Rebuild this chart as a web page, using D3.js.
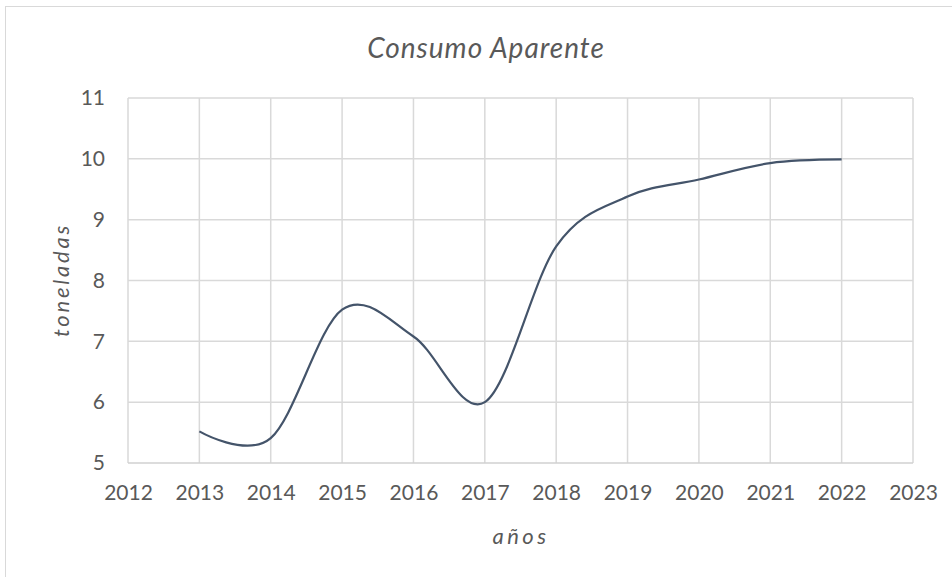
<!DOCTYPE html>
<html>
<head>
<meta charset="utf-8">
<script src="https://cdn.jsdelivr.net/npm/d3@7"></script>
<style>
  body { margin: 0; background: #fff; }
  text { font-family: Lato, "Open Sans", sans-serif; fill: #595959; }
</style>
</head>
<body>
<svg id="chart" width="952" height="577" viewBox="0 0 952 577"></svg>
<script>
// data
const years = [2013, 2014, 2015, 2016, 2017, 2018, 2019, 2020, 2021, 2022];
const consumo = [5.52, 5.41, 7.52, 7.08, 6.0, 8.56, 9.38, 9.66, 9.93, 9.99];
const xTicks = [2012, 2013, 2014, 2015, 2016, 2017, 2018, 2019, 2020, 2021, 2022, 2023];
const yTicks = [5, 6, 7, 8, 9, 10, 11];

const svg = d3.select("#chart");
const width = 952, height = 577;
const margin = {left: 128, right: 39, top: 98, bottom: 114};

// outer chart frame
svg.append("rect")
    .attr("x", 5.5).attr("y", 6.5)
    .attr("width", 980).attr("height", 600)
    .attr("fill", "#fff")
    .attr("stroke", "#d9d9d9");

const x = d3.scaleLinear()
    .domain([2012, 2023])
    .range([margin.left, width - margin.right]);
const y = d3.scaleLinear()
    .domain([5, 11])
    .range([height - margin.bottom, margin.top]);

// grid
const grid = svg.append("g");
grid.selectAll(".vg")
    .data(xTicks)
    .enter()
    .append("line")
    .attr("x1", d => x(d)).attr("x2", d => x(d))
    .attr("y1", y(5)).attr("y2", y(11))
    .attr("stroke", "#d9d9d9")
    .attr("stroke-width", 1.5);
grid.selectAll(".hg")
    .data(yTicks)
    .enter()
    .append("line")
    .attr("x1", x(2012)).attr("x2", x(2023))
    .attr("y1", d => y(d)).attr("y2", d => y(d))
    .attr("stroke", d => d === 5 ? "#d0d0d0" : "#d9d9d9")
    .attr("stroke-width", 1.5);

// axes (labels only)
const xAxis = svg.append("g")
    .attr("transform", `translate(0,${y(5)})`)
    .call(d3.axisBottom(x).tickValues(xTicks).tickFormat(d3.format("d")).tickSize(0).tickPadding(22));
const yAxis = svg.append("g")
    .attr("transform", `translate(${x(2012)},0)`)
    .call(d3.axisLeft(y).tickValues(yTicks).tickFormat(d3.format("d")).tickSize(0).tickPadding(23));
[xAxis, yAxis].forEach(a => {
    a.select(".domain").remove();
    a.selectAll("text")
        .style("font-family", "Lato, 'Open Sans', sans-serif")
        .style("font-size", "21px")
        .attr("fill", "#595959");
});

// line
const line = d3.line()
    .x((d, i) => x(years[i]))
    .y(d => y(d))
    .curve(d3.curveCardinal.tension(0));
svg.append("path")
    .datum(consumo)
    .attr("d", line)
    .attr("fill", "none")
    .attr("stroke", "#44546a")
    .attr("stroke-width", 2.2);

// titles
svg.append("text")
    .attr("x", 486).attr("y", 58)
    .attr("text-anchor", "middle")
    .style("font-size", "28px")
    .style("font-style", "italic")
    .style("letter-spacing", "1px")
    .text("Consumo Aparente");

svg.append("text")
    .attr("transform", "translate(69,280) rotate(-90)")
    .attr("text-anchor", "middle")
    .style("font-size", "22px")
    .style("font-style", "italic")
    .style("letter-spacing", "2.8px")
    .text("toneladas");

svg.append("text")
    .attr("x", 521).attr("y", 544)
    .attr("text-anchor", "middle")
    .style("font-size", "22px")
    .style("font-style", "italic")
    .style("letter-spacing", "3.5px")
    .text("años");
</script>
</body>
</html>
